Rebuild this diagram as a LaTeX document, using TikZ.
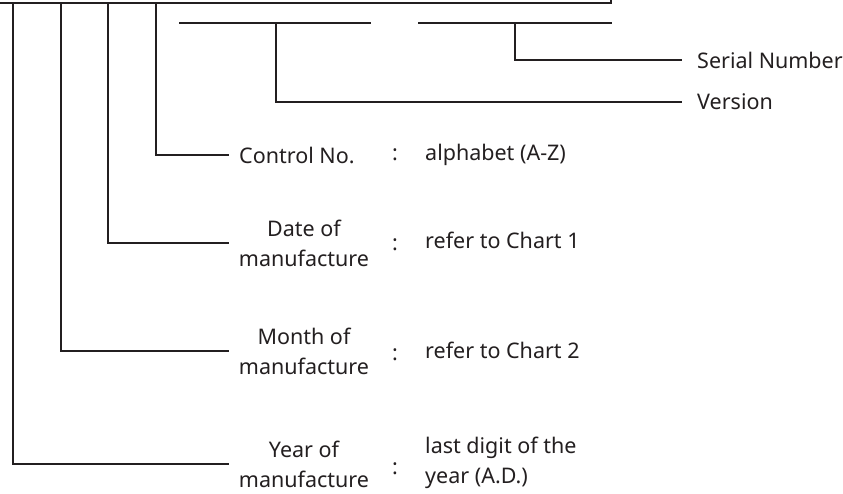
\documentclass[tikz,border=0pt]{standalone}
\usepackage{fontspec}
\setmainfont{Noto Sans}
\usetikzlibrary{positioning}
\definecolor{ink}{HTML}{231F20}
\tikzstyle{lead} = [draw=ink, line width=2pt]
\tikzstyle{txt} = [text=ink, inner sep=0pt, font=\fontsize{21.5}{30}\selectfont]
\tikzstyle{field} = [txt, align=center, inner xsep=10pt]
\tikzstyle{tag} = [txt, anchor=west, inner xsep=15pt]
\tikzstyle{val} = [txt, align=left, anchor=west]

\begin{document}
\begin{tikzpicture}[x=1pt, y=-1pt]
    \useasboundingbox (0,0) rectangle (843,493);
    \coordinate (left) at (0,2.5);
    \coordinate (right) at (611,2.5);
    \coordinate (ytop) at (13,2.5);
    \coordinate (mtop) at (61,2.5);
    \coordinate (dtop) at (108,2.5);
    \coordinate (ctop) at (156,2.5);
    \coordinate (va) at (179,22.5);
    \coordinate (vb) at (371,22.5);
    \coordinate (vtop) at (276,22.5);
    \coordinate (sa) at (418,22.5);
    \coordinate (sb) at (612,22.5);
    \coordinate (stop) at (515,22.5);
    \node[tag] (serial) at (682,60) {Serial Number};
    \node[tag] (version) at (682,102) {Version};
    \node[field, anchor=west] (ctrl) at (229,155) {Control No.};
    \node[field] (date) at (304,243) {Date of\\manufacture};
    \node[field] (month) at (304,351) {Month of\\manufacture};
    \node[field] (year) at (304,464) {Year of\\manufacture};
    \node[txt] (c1) at (395,155) {:};
    \node[txt] (c2) at (395,245) {:};
    \node[txt] (c3) at (395,355) {:};
    \node[txt] (c4) at (395,469) {:};
    \node[val] (v1) at (425,155) {alphabet (A-Z)};
    \node[val] (v2) at (425,240) {refer to Chart 1};
    \node[val] (v3) at (425,350) {refer to Chart 2};
    \node[val] (v4) at (425,463) {last digit of the\\year (A.D.)};
    \draw[lead] (left) -- (right) -- ++(0,-2.5);
    \draw[lead] (va) -- (vb);
    \draw[lead] (sa) -- (sb);
    \draw[lead] (stop) |- (serial.west);
    \draw[lead] (vtop) |- (version.west);
    \draw[lead] (ctop) |- (ctrl.west);
    \draw[lead] (dtop) |- (date.west);
    \draw[lead] (mtop) |- (month.west);
    \draw[lead] (ytop) |- (year.west);
\end{tikzpicture}
\end{document}
